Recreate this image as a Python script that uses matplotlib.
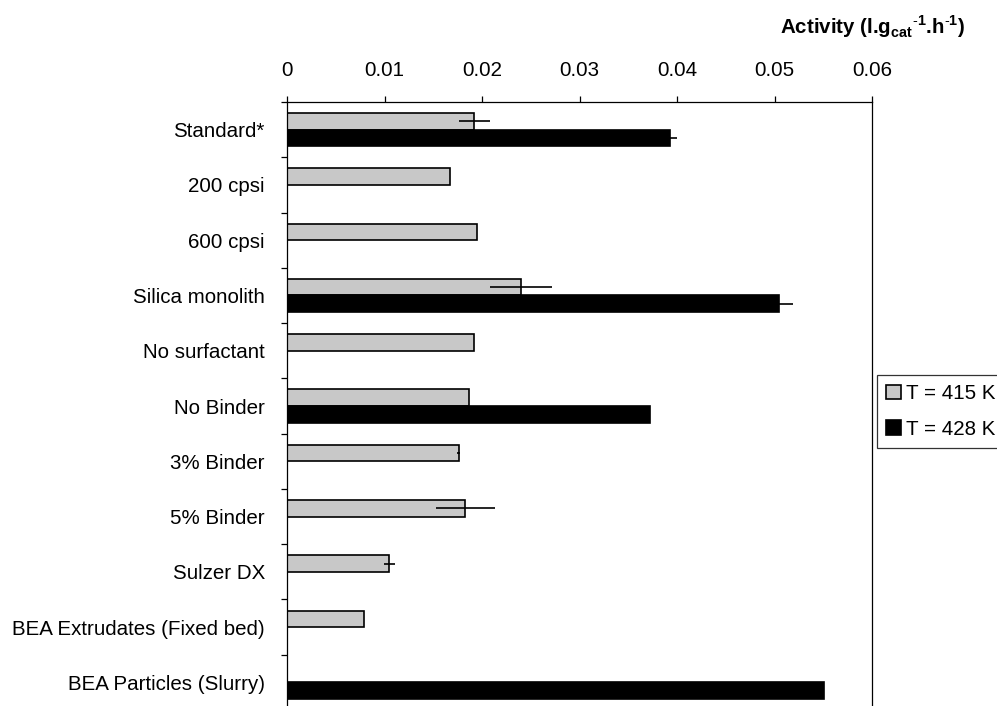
import numpy as np
import matplotlib
matplotlib.use('Agg')
from matplotlib import pyplot as plt
from matplotlib.ticker import FixedLocator

plt.rcParams['font.family'] = ['Liberation Sans', 'DejaVu Sans']
plt.rcParams['mathtext.fontset'] = 'custom'
plt.rcParams['mathtext.rm'] = 'Liberation Sans'
plt.rcParams['mathtext.bf'] = 'Liberation Sans:bold'

# data
categories = ['Standard*', '200 cpsi', '600 cpsi', 'Silica monolith', 'No surfactant',
              'No Binder', '3% Binder', '5% Binder', 'Sulzer DX',
              'BEA Extrudates (Fixed bed)', 'BEA Particles (Slurry)']
t415 = [0.0192, 0.0167, 0.0195, 0.0240, 0.0192, 0.0187, 0.0176, 0.0183, 0.0105, 0.0079, np.nan]
t415_err = [0.0016, 0, 0, 0.0032, 0, 0, 0.00015, 0.0030, 0.0006, 0, 0]
t428 = [0.0393, np.nan, np.nan, 0.0505, np.nan, 0.0372, np.nan, np.nan, np.nan, np.nan, 0.0551]
t428_err = [0.0007, 0, 0, 0.0014, 0, 0, 0, 0, 0, 0, 0]
xticks = [0, 0.01, 0.02, 0.03, 0.04, 0.05, 0.06]
series_labels = ['T = 415 K', 'T = 428 K']

fs = 14.8
fig = plt.figure(figsize=(9.97, 7.06), dpi=100)
ax = fig.add_axes([287/997, 1-710/706, 585/997, 608/706])

y = np.arange(len(categories))
h = 0.3
v1 = np.array(t415); e1 = np.array(t415_err)
v2 = np.array(t428); e2 = np.array(t428_err)
m1 = ~np.isnan(v1)
m2 = ~np.isnan(v2)

b1 = ax.barh(y[m1] - h/2, v1[m1], height=h, color='#c8c8c8', edgecolor='black',
             linewidth=1.2, label=series_labels[0])
b2 = ax.barh(y[m2] + h/2, v2[m2], height=h, color='black', edgecolor='black',
             linewidth=1.2, label=series_labels[1])
k1 = m1 & (e1 > 0)
k2 = m2 & (e2 > 0)
ax.errorbar(v1[k1], y[k1] - h/2, xerr=e1[k1], fmt='none', ecolor='black', elinewidth=1.2, capsize=0)
ax.errorbar(v2[k2], y[k2] + h/2, xerr=e2[k2], fmt='none', ecolor='black', elinewidth=1.2, capsize=0)

ax.set_xlim(0, 0.06)
ax.set_ylim(len(categories) - 0.5, -0.5)
ax.xaxis.tick_top()
ax.set_xticks(xticks)
ax.set_xticklabels(['0' if t == 0 else '%g' % t for t in xticks], fontsize=fs)
ax.tick_params(axis='x', direction='out', length=4, width=0.9, pad=12)
ax.set_yticks(y)
ax.set_yticklabels(categories, fontsize=fs)
ax.tick_params(axis='y', which='major', length=0, pad=16)
ax.yaxis.set_minor_locator(FixedLocator(np.arange(-0.5, len(categories), 1.0)))
ax.tick_params(axis='y', which='minor', direction='out', length=4, width=0.9)
for s in ax.spines.values():
    s.set_linewidth(0.9)

fig.text(965/997, 1-27/706,
         r'Activity (l.g$_{\mathbf{cat}}$$^{\mathbf{\text{-}1}}$.h$^{\mathbf{\text{-}1}}$)',
         ha='right', va='center', fontsize=fs, fontweight='bold')

leg = fig.legend(handles=[b1, b2], loc='upper left', bbox_to_anchor=(877/997, 1-375/706),
                 fontsize=fs, frameon=True, fancybox=False, edgecolor='black',
                 handlelength=0.7, handleheight=0.7, handletextpad=0.25,
                 borderpad=0.45, labelspacing=0.8, borderaxespad=0)
leg.get_frame().set_linewidth(0.9)

fig.savefig('out.png', dpi=100)
